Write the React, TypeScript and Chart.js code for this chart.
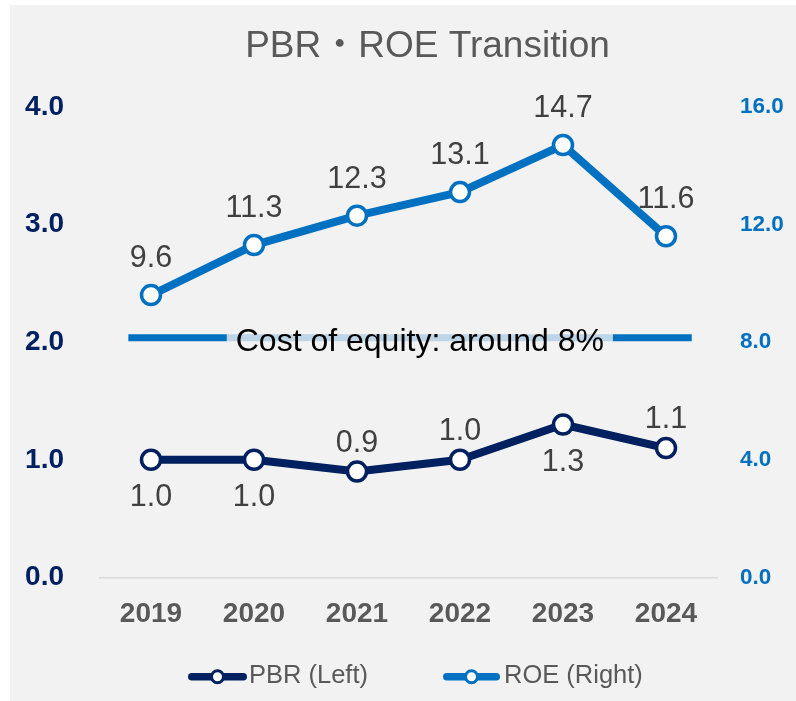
import React, { useEffect, useRef } from "react";
import { Chart, registerables } from "chart.js";

Chart.register(...registerables);

const years = ["2019", "2020", "2021", "2022", "2023", "2024"];
const pbrValues = [1.0, 1.0, 0.9, 1.0, 1.3, 1.1];
const roeValues = [9.6, 11.3, 12.3, 13.1, 14.7, 11.6];
const pbrLabelSide = ["below", "below", "above", "above", "below", "above"];
const costOfEquityLevel = 8.15;
const costOfEquityText = "Cost of equity: around 8%";
const titleText = "PBR・ROE Transition";
const legendLabels = ["PBR (Left)", "ROE (Right)"];
const leftAxisMax = 4;
const leftAxisStep = 1;
const rightAxisMax = 16;
const rightAxisStep = 4;

const FONT = '"Liberation Sans", Arial, "Noto Sans CJK JP", sans-serif';
const PBR_COLOR = "#002060";
const ROE_COLOR = "#0070C0";

const overlayPlugin = {
  id: "overlay",
  afterDatasetsDraw(chart: any) {
    const ctx = chart.ctx as CanvasRenderingContext2D;
    const xs = chart.scales.x;
    const yR = chart.scales.yR;
    ctx.save();

    // cost of equity line
    const lineY = yR.getPixelForValue(costOfEquityLevel);
    const x0 = xs.getPixelForValue(-0.22);
    const x1 = xs.getPixelForValue(5.25);
    ctx.strokeStyle = ROE_COLOR;
    ctx.lineWidth = 7;
    ctx.lineCap = "butt";
    ctx.beginPath();
    ctx.moveTo(x0, lineY);
    ctx.lineTo(x1, lineY);
    ctx.stroke();
    ctx.font = `32px ${FONT}`;
    const tw = ctx.measureText(costOfEquityText).width;
    const cx = xs.getPixelForValue(2.61);
    ctx.fillStyle = "rgba(242,242,242,0.78)";
    ctx.fillRect(cx - tw / 2 - 9, lineY - 5, tw + 18, 10);
    ctx.fillStyle = "#000000";
    ctx.textAlign = "center";
    ctx.textBaseline = "alphabetic";
    ctx.fillText(costOfEquityText, cx, lineY + 13);

    // data labels
    ctx.font = `30.5px ${FONT}`;
    ctx.fillStyle = "#404040";
    const pbrMeta = chart.getDatasetMeta(0);
    pbrMeta.data.forEach((el: any, i: number) => {
      const y = pbrLabelSide[i] === "above" ? el.y - 20 : el.y + 46;
      ctx.fillText(pbrValues[i].toFixed(1), el.x, y);
    });
    const roeMeta = chart.getDatasetMeta(1);
    roeMeta.data.forEach((el: any, i: number) => {
      ctx.fillText(roeValues[i].toFixed(1), el.x, el.y - 28);
    });

    // title
    ctx.font = `37px ${FONT}`;
    ctx.fillStyle = "#595959";
    ctx.fillText(titleText, 417.5, 51.7);

    // legend
    const items = [
      { x: 178, len: 59, gap: 2, color: PBR_COLOR, text: legendLabels[0] },
      { x: 433, len: 57, gap: 4, color: ROE_COLOR, text: legendLabels[1] },
    ];
    const ly = 671.7;
    items.forEach((it) => {
      ctx.strokeStyle = it.color;
      ctx.lineWidth = 7.5;
      ctx.lineCap = "round";
      ctx.beginPath();
      ctx.moveTo(it.x + 3.75, ly);
      ctx.lineTo(it.x + it.len - 3.75, ly);
      ctx.stroke();
      ctx.beginPath();
      ctx.arc(it.x + it.len / 2, ly, 6, 0, Math.PI * 2);
      ctx.fillStyle = "#ffffff";
      ctx.fill();
      ctx.lineWidth = 3;
      ctx.stroke();
      ctx.font = `25.5px ${FONT}`;
      ctx.fillStyle = "#595959";
      ctx.textAlign = "left";
      ctx.fillText(it.text, it.x + it.len + it.gap, ly + 6.6);
    });

    ctx.restore();
  },
};

export default function App() {
  const canvasRef = useRef<HTMLCanvasElement | null>(null);

  useEffect(() => {
    if (!canvasRef.current) return;
    Chart.defaults.font.family = FONT;
    const chart = new Chart(canvasRef.current, {
      type: "line",
      data: {
        labels: years,
        datasets: [
          {
            label: legendLabels[0],
            data: pbrValues,
            yAxisID: "yL",
            borderColor: PBR_COLOR,
            borderWidth: 8,
            pointRadius: 9.5,
            pointHoverRadius: 9.5,
            pointBackgroundColor: "#ffffff",
            pointBorderColor: PBR_COLOR,
            pointBorderWidth: 3.5,
            borderJoinStyle: "round",
            borderCapStyle: "round",
            tension: 0,
            fill: false,
          },
          {
            label: legendLabels[1],
            data: roeValues,
            yAxisID: "yR",
            borderColor: ROE_COLOR,
            borderWidth: 8,
            pointRadius: 9.5,
            pointHoverRadius: 9.5,
            pointBackgroundColor: "#ffffff",
            pointBorderColor: ROE_COLOR,
            pointBorderWidth: 3.5,
            borderJoinStyle: "round",
            borderCapStyle: "round",
            tension: 0,
            fill: false,
          },
        ],
      },
      options: {
        responsive: false,
        maintainAspectRatio: false,
        animation: false,
        layout: { padding: { top: 101.8, left: 0, right: 0, bottom: 0 } },
        plugins: {
          legend: { display: false },
          title: { display: false },
          tooltip: { enabled: false },
        },
        scales: {
          x: {
            type: "category",
            offset: true,
            grid: { display: false, drawTicks: false },
            border: { display: true, color: "#D9D9D9", width: 1.5 },
            ticks: {
              color: "#595959",
              font: { size: 28, weight: "bold", family: FONT },
              padding: 20,
              maxRotation: 0,
              autoSkip: false,
            },
            afterFit: (s: any) => {
              s.height = 123.5;
            },
          },
          yL: {
            type: "linear",
            position: "left",
            min: 0,
            max: leftAxisMax,
            grid: { display: false, drawTicks: false },
            border: { display: false },
            ticks: {
              stepSize: leftAxisStep,
              color: PBR_COLOR,
              font: { size: 28, weight: "bold", family: FONT },
              padding: 35.5,
              callback: (v: any) => Number(v).toFixed(1),
            },
            afterFit: (s: any) => {
              s.width = 89.5;
            },
          },
          yR: {
            type: "linear",
            position: "right",
            min: 0,
            max: rightAxisMax,
            grid: { display: false, drawTicks: false },
            border: { display: false },
            ticks: {
              stepSize: rightAxisStep,
              color: ROE_COLOR,
              font: { size: 22.5, weight: "bold", family: FONT },
              padding: 22.5,
              callback: (v: any) => Number(v).toFixed(1),
            },
            afterFit: (s: any) => {
              s.width = 78.5;
            },
          },
        },
      } as any,
      plugins: [overlayPlugin],
    });
    return () => chart.destroy();
  }, []);

  return (
    <div style={{ position: "absolute", left: 10, top: 5, width: 786, height: 696 }}>
      <canvas
        ref={canvasRef}
        width={786}
        height={696}
        style={{ width: 786, height: 696, background: "#F2F2F2", display: "block" }}
      />
    </div>
  );
}
